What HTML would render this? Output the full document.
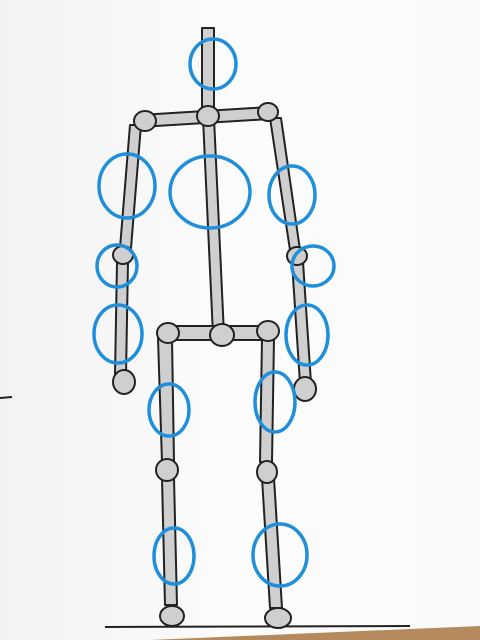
<!DOCTYPE html>
<html><head><meta charset="utf-8"><style>
html,body{margin:0;padding:0;width:480px;height:640px;overflow:hidden;background:#fbfbfb}
svg{display:block}
</style></head><body>
<svg width="480" height="640" viewBox="0 0 480 640">
<defs>
<linearGradient id="paper" x1="0" x2="1" y1="0" y2="0">
<stop offset="0" stop-color="#f2f2f2"/><stop offset="0.5" stop-color="#fcfcfc"/><stop offset="1" stop-color="#fafafa"/>
</linearGradient>
</defs>
<rect width="480" height="640" fill="url(#paper)"/>
<polygon points="150,640 480,626 480,640" fill="#b48a5e"/>
<line x1="0" y1="398" x2="12" y2="397" stroke="#222" stroke-width="2"/>
<line x1="105" y1="627" x2="410" y2="626" stroke="#222" stroke-width="2"/>

<g fill="#cfcfcf" stroke="#222" stroke-width="2" stroke-linejoin="round">
<polygon points="202,28 214,28 214,110 202,110"/>
<polygon points="140,115 270,107 270,119 140,127"/>
<polygon points="203,118 214,118 224,335 213,335"/>
<polygon points="130,125 141,125 131,248 120,248"/>
<polygon points="117,262 128,262 126,375 115,375"/>
<polygon points="270,118 281,118 300,250 290,250"/>
<polygon points="292,262 303,262 311,383 300,383"/>
<polygon points="165,326 270,326 270,340 165,340"/>
<polygon points="158,338 172,338 174,462 162,462"/>
<polygon points="162,478 174,478 177,605 165,605"/>
<polygon points="262,338 274,338 272,462 260,462"/>
<polygon points="262,478 274,478 282,608 270,608"/>
</g>
<g fill="#cfcfcf" stroke="#222" stroke-width="2">
<ellipse cx="145" cy="121" rx="11" ry="10"/>
<ellipse cx="208" cy="116" rx="11" ry="10"/>
<ellipse cx="268" cy="112" rx="10" ry="9"/>
<ellipse cx="123" cy="255" rx="10" ry="9"/>
<ellipse cx="297" cy="256" rx="10" ry="9"/>
<ellipse cx="124" cy="382" rx="11" ry="12"/>
<ellipse cx="305" cy="389" rx="11" ry="12"/>
<ellipse cx="168" cy="333" rx="11" ry="10"/>
<ellipse cx="222" cy="335" rx="12" ry="11"/>
<ellipse cx="268" cy="331" rx="11" ry="10"/>
<ellipse cx="167" cy="470" rx="11" ry="11"/>
<ellipse cx="267" cy="472" rx="10" ry="11"/>
<ellipse cx="172" cy="616" rx="12" ry="10"/>
<ellipse cx="278" cy="618" rx="13" ry="10"/>
</g>
<g fill="none" stroke="#1f8fdc" stroke-width="3.5">
<ellipse cx="213" cy="64" rx="23" ry="25"/>
<ellipse cx="210" cy="192" rx="40" ry="36"/>
<ellipse cx="127" cy="186" rx="28" ry="32"/>
<ellipse cx="117" cy="266" rx="20" ry="21"/>
<ellipse cx="118" cy="334" rx="24" ry="29"/>
<ellipse cx="292" cy="195" rx="23" ry="29"/>
<ellipse cx="313" cy="266" rx="21" ry="20"/>
<ellipse cx="307" cy="335" rx="21" ry="30"/>
<ellipse cx="169" cy="410" rx="20" ry="26"/>
<ellipse cx="275" cy="402" rx="20" ry="30"/>
<ellipse cx="174" cy="556" rx="20" ry="28"/>
<ellipse cx="280" cy="555" rx="27" ry="31"/>
</g>
</svg>
</body></html>
